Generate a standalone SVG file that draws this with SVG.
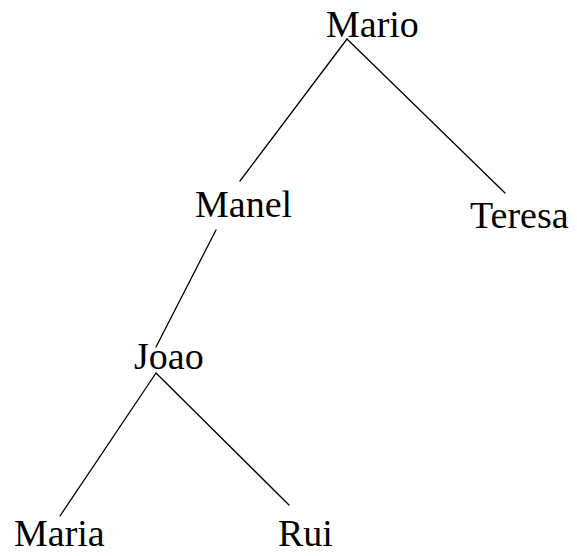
<svg xmlns="http://www.w3.org/2000/svg" width="577" height="556" viewBox="0 0 577 556">
<style>
text { font-family: "Liberation Serif", "Times New Roman", serif; font-size: 38px; fill: #000; }
.edge { stroke: #000; stroke-width: 1.3; fill: none; stroke-linecap: round; }
</style>
<rect width="577" height="556" fill="#fff"/>
<g id="connectors">
<line class="edge" x1="347" y1="39" x2="240" y2="181"/>
<line class="edge" x1="347" y1="39" x2="505" y2="193"/>
<line class="edge" x1="216" y1="230" x2="156" y2="347"/>
<line class="edge" x1="156" y1="373" x2="60" y2="516"/>
<line class="edge" x1="156" y1="373" x2="289" y2="505"/>
</g>
<g id="mario"><text x="326" y="37">Mario</text></g>
<g id="manel"><text x="195" y="217">Manel</text></g>
<g id="teresa"><text x="470" y="228">Teresa</text></g>
<g id="joao"><text x="134" y="369">Joao</text></g>
<g id="maria"><text x="14" y="546">Maria</text></g>
<g id="rui"><text x="278" y="546">Rui</text></g>
</svg>
